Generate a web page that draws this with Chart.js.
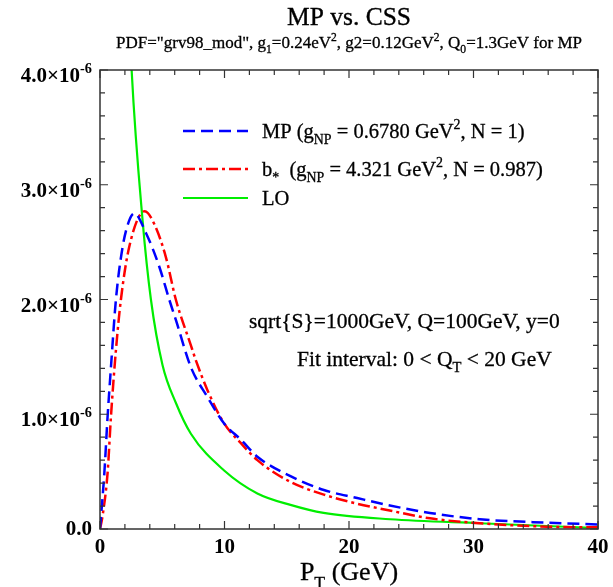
<!DOCTYPE html>
<html>
<head>
<meta charset="utf-8">
<script src="https://cdn.jsdelivr.net/npm/chart.js@4"></script>
<style>
  body { margin: 0; background: #fff; }
</style>
</head>
<body>
<canvas id="chart" width="613" height="587"></canvas>
<script>
// values in units of 1e-6
const mpPt = [0, 0.35, 0.61, 0.88, 1.28, 1.82, 2.35, 2.75, 3.69, 4.75, 5.56, 6.1, 7.3, 8.63, 9.97, 11.3, 12.64, 15.3, 17.98, 20.66, 23.06, 26.5, 30.5, 35.9, 40];
const mpVal = [0, 0.49, 0.98, 1.41, 2.0, 2.46, 2.69, 2.75, 2.58, 2.29, 2.0, 1.82, 1.41, 1.15, 0.92, 0.78, 0.63, 0.46, 0.34, 0.27, 0.21, 0.14, 0.085, 0.055, 0.04];

const bstarPt = [0, 0.2, 0.61, 0.88, 1.28, 1.68, 2.35, 3.6, 4.35, 5.29, 6.09, 7.3, 7.7, 8.63, 9.97, 11.3, 12.64, 15.3, 17.98, 20.66, 23.06, 26.5, 30.5, 35.9, 40];
const bstarVal = [0, 0.11, 0.49, 0.98, 1.56, 2.0, 2.46, 2.77, 2.66, 2.37, 2.0, 1.6, 1.47, 1.21, 0.92, 0.75, 0.60, 0.41, 0.30, 0.22, 0.166, 0.093, 0.05, 0.02, 0.015];

const loPt = [2.2, 2.54, 3.42, 4.09, 5.02, 6.09, 7.3, 9.97, 12.64, 15.3, 17.96, 23.3, 30.5, 40];
const loVal = [4.9, 4.0, 2.69, 2.0, 1.43, 1.1, 0.83, 0.51, 0.31, 0.21, 0.14, 0.085, 0.05, 0.008];

const yMajorLabels = ['0.0', '1.0', '2.0', '3.0', '4.0'];
const xMajorLabels = ['0', '10', '20', '30', '40'];

const FONT = '"Liberation Serif", "Times New Roman", serif';

function pts(xs, ys) {
    return xs.map((x, i) => ({ x: x, y: ys[i] }));
}

// draw text with sub/superscripts; parts = [[text, kind], ...]
function drawRich(ctx, parts, x, y, size, align, weight, thick) {
    weight = weight || 'normal';
    const fontFor = (kind) => {
        const small = kind === 'sub' || kind === 'sup';
        return weight + ' ' + (small ? (size * 0.68).toFixed(1) : size) + 'px ' + FONT;
    };
    let total = 0;
    parts.forEach(p => { ctx.font = fontFor(p[1]); total += ctx.measureText(p[0]).width; });
    let cx = x;
    if (align === 'center') cx = x - total / 2;
    if (align === 'right') cx = x - total;
    ctx.textAlign = 'left';
    ctx.textBaseline = 'alphabetic';
    ctx.strokeStyle = '#000';
    if (thick) ctx.lineWidth = thick;
    parts.forEach(p => {
        ctx.font = fontFor(p[1]);
        let dy = 0;
        if (p[1] === 'sub') dy = size * 0.3;
        if (p[1] === 'sup') dy = -size * 0.42;
        ctx.fillText(p[0], cx, y + dy);
        if (thick) ctx.strokeText(p[0], cx, y + dy);
        cx += ctx.measureText(p[0]).width;
    });
}

const decorPlugin = {
    id: 'decor',
    afterDraw(chart) {
        const ctx = chart.ctx;
        const a = chart.chartArea;
        const xs = chart.scales.x;
        const ys = chart.scales.y;
        const midX = (a.left + a.right) / 2;
        ctx.save();
        ctx.fillStyle = '#000';

        // frame
        ctx.strokeStyle = '#333';
        ctx.lineWidth = 1.5;
        ctx.strokeRect(a.left, a.top, a.right - a.left, a.bottom - a.top);

        // ticks (inward, all sides)
        ctx.lineWidth = 1.2;
        ctx.beginPath();
        xs.ticks.forEach(t => {
            const px = xs.getPixelForValue(t.value);
            const len = Math.round(t.value) % 10 === 0 ? 8 : 5;
            ctx.moveTo(px, a.bottom); ctx.lineTo(px, a.bottom - len);
            ctx.moveTo(px, a.top); ctx.lineTo(px, a.top + len);
        });
        ys.ticks.forEach(t => {
            const py = ys.getPixelForValue(t.value);
            const len = Math.round(t.value * 5) % 5 === 0 ? 8 : 5;
            ctx.moveTo(a.left, py); ctx.lineTo(a.left + len, py);
            ctx.moveTo(a.right, py); ctx.lineTo(a.right - len, py);
        });
        ctx.stroke();

        // y tick labels
        yMajorLabels.forEach((lab, i) => {
            const py = ys.getPixelForValue(i);
            if (i === 0) {
                drawRich(ctx, [[lab, '']], 92, py + 6, 21, 'right', 'bold');
            } else {
                drawRich(ctx, [[lab + '\u00d710', ''], ['-6', 'sup']], 92, py + 12, 21, 'right', 'bold');
            }
        });
        // x tick labels
        xMajorLabels.forEach((lab, i) => {
            const px = xs.getPixelForValue(i * 10);
            drawRich(ctx, [[lab, '']], px, a.bottom + 24, 21, 'center', 'bold');
        });

        // axis title
        drawRich(ctx, [['P', ''], ['T', 'sub'], [' (GeV)', '']], midX, 580, 26, 'center', 'normal', 0.3);

        // titles
        drawRich(ctx, [['MP vs. CSS', '']], midX, 25, 25.5, 'center', 'normal', 0.35);
        drawRich(ctx, [['PDF="grv98_mod", g', ''], ['1', 'sub'], ['=0.24eV', ''], ['2', 'sup'],
            [', g2=0.12GeV', ''], ['2', 'sup'], [', Q', ''], ['0', 'sub'], ['=1.3GeV for MP', '']],
            midX, 48, 17, 'center', 'normal', 0.3);

        // legend
        const legend = [
            { ds: 0, y: 131, parts: [['MP (g', ''], ['NP', 'sub'], [' = 0.6780 GeV', ''], ['2', 'sup'], [', N = 1)', '']] },
            { ds: 1, y: 169, parts: [['b', ''], ['*', 'sub'], ['  (g', ''], ['NP', 'sub'], [' = 4.321 GeV', ''], ['2', 'sup'], [', N = 0.987)', '']] },
            { ds: 2, y: 198, parts: [['LO', '']] }
        ];
        legend.forEach(item => {
            const ds = chart.data.datasets[item.ds];
            ctx.save();
            ctx.strokeStyle = ds.borderColor;
            ctx.lineWidth = ds.borderWidth;
            ctx.setLineDash(ds.borderDash || []);
            ctx.beginPath();
            ctx.moveTo(183, item.y);
            ctx.lineTo(248, item.y);
            ctx.stroke();
            ctx.restore();
            drawRich(ctx, item.parts, 262, item.y + 7, 20.5, 'left', 'normal', 0.3);
        });

        // annotations
        drawRich(ctx, [['sqrt{S}=1000GeV, Q=100GeV, y=0', '']], 249, 328, 21.5, 'left', 'normal', 0.3);
        drawRich(ctx, [['Fit interval: 0 < Q', ''], ['T', 'sub'], [' < 20 GeV', '']], 297, 366, 21.5, 'left', 'normal', 0.3);

        ctx.restore();
    }
};

new Chart(document.getElementById('chart'), {
    type: 'line',
    data: {
        datasets: [
            {
                label: 'MP',
                data: pts(mpPt, mpVal),
                borderColor: '#0000ff',
                borderWidth: 2.5,
                borderDash: [12, 6],
                pointRadius: 0,
                cubicInterpolationMode: 'monotone',
                fill: false
            },
            {
                label: 'b*',
                data: pts(bstarPt, bstarVal),
                borderColor: '#ff0000',
                borderWidth: 2.5,
                borderDash: [12, 4, 3, 4],
                pointRadius: 0,
                cubicInterpolationMode: 'monotone',
                fill: false
            },
            {
                label: 'LO',
                data: pts(loPt, loVal),
                borderColor: '#00ee00',
                borderWidth: 2.2,
                pointRadius: 0,
                cubicInterpolationMode: 'monotone',
                fill: false
            }
        ]
    },
    options: {
        responsive: false,
        animation: false,
        layout: { padding: { left: 100, top: 70, right: 15, bottom: 58 } },
        plugins: {
            legend: { display: false },
            tooltip: { enabled: false }
        },
        scales: {
            x: {
                type: 'linear',
                min: 0,
                max: 40,
                display: false,
                ticks: { stepSize: 2 }
            },
            y: {
                type: 'linear',
                min: 0,
                max: 4,
                display: false,
                ticks: { stepSize: 0.2 }
            }
        }
    },
    plugins: [decorPlugin]
});
</script>
</body>
</html>
